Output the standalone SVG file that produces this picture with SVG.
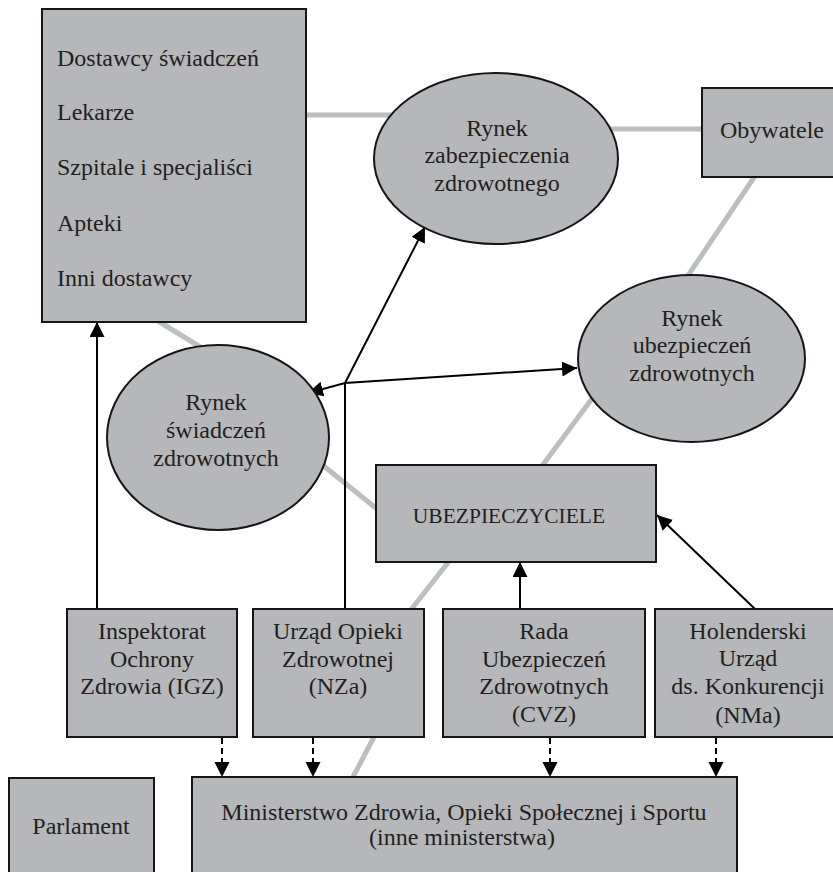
<svg xmlns="http://www.w3.org/2000/svg" width="833" height="872" viewBox="0 0 833 872">
<style>
.box{fill:#b6b7ba;stroke:#161616;stroke-width:2}
.t{font-family:"Liberation Serif","Times New Roman",serif;font-size:24px;fill:#231f20}
.c{text-anchor:middle}
.gl{stroke:#bcbec0;stroke-width:5;fill:none}
.ar{stroke:#000;stroke-width:2;fill:none}
.da{stroke:#000;stroke-width:2;fill:none;stroke-dasharray:6 4}
</style>
<defs>
<marker id="ah" markerUnits="userSpaceOnUse" markerWidth="16" markerHeight="16" refX="15" refY="7.5" orient="auto-start-reverse">
<path d="M0,0 L15,7.5 L0,15 z" fill="#000"/>
</marker>
</defs>
<rect width="833" height="872" fill="#fff"/>
<g id="connectors">
<line class="gl" x1="306" y1="115" x2="395" y2="115"/>
<line class="gl" x1="610" y1="129" x2="703" y2="129"/>
<line class="gl" x1="755" y1="176" x2="687" y2="277"/>
<line class="gl" x1="158" y1="321" x2="202" y2="348"/>
<line class="gl" x1="320" y1="463" x2="377" y2="509"/>
<line class="gl" x1="594" y1="396" x2="542" y2="466"/>
<line class="gl" x1="450" y1="560" x2="410" y2="611"/>
<line class="gl" x1="375" y1="735" x2="352" y2="779"/>
<line class="ar" x1="97" y1="609" x2="97" y2="322" marker-end="url(#ah)"/>
<polyline class="ar" points="345,609 345,383 425,227" marker-end="url(#ah)"/>
<polyline class="ar" points="308,393 345,383 577,368" marker-start="url(#ah)" marker-end="url(#ah)"/>
<line class="ar" x1="520" y1="609" x2="520" y2="562" marker-end="url(#ah)"/>
<line class="ar" x1="755" y1="609" x2="657" y2="515" marker-end="url(#ah)"/>
<line class="da" x1="222" y1="738" x2="222" y2="777" marker-end="url(#ah)"/>
<line class="da" x1="313" y1="738" x2="313" y2="777" marker-end="url(#ah)"/>
<line class="da" x1="550" y1="738" x2="550" y2="777" marker-end="url(#ah)"/>
<line class="da" x1="716" y1="738" x2="716" y2="777" marker-end="url(#ah)"/>
</g>
<g id="dostawcy">
<rect class="box" x="42" y="9" width="264" height="313"/>
<text class="t" x="57" y="66">Dostawcy świadczeń</text>
<text class="t" x="57" y="120">Lekarze</text>
<text class="t" x="57" y="175">Szpitale i specjaliści</text>
<text class="t" x="57" y="231">Apteki</text>
<text class="t" x="57" y="286">Inni dostawcy</text>
</g>
<g id="rynek-zabezpieczenia">
<ellipse class="box" cx="496" cy="158.5" rx="122" ry="85.5"/>
<text class="t c" x="497" y="136">Rynek</text>
<text class="t c" x="497" y="163">zabezpieczenia</text>
<text class="t c" x="497" y="191">zdrowotnego</text>
</g>
<g id="obywatele">
<rect class="box" x="702" y="88" width="140" height="89"/>
<text class="t c" x="772" y="138">Obywatele</text>
</g>
<g id="rynek-ubezpieczen">
<ellipse class="box" cx="691.5" cy="358.5" rx="113.5" ry="83.5"/>
<text class="t c" x="692" y="326">Rynek</text>
<text class="t c" x="692" y="353">ubezpieczeń</text>
<text class="t c" x="692" y="381">zdrowotnych</text>
</g>
<g id="rynek-swiadczen">
<ellipse class="box" cx="218" cy="437.5" rx="111" ry="92.5"/>
<text class="t c" x="216" y="410">Rynek</text>
<text class="t c" x="216" y="438">świadczeń</text>
<text class="t c" x="216" y="466">zdrowotnych</text>
</g>
<g id="ubezpieczyciele">
<rect class="box" x="376" y="465" width="280" height="97"/>
<text class="t c" x="509" y="523" style="font-size:21.5px">UBEZPIECZYCIELE</text>
</g>
<g id="igz">
<rect class="box" x="67" y="609" width="170" height="128"/>
<text class="t c" x="152" y="639">Inspektorat</text>
<text class="t c" x="152" y="667">Ochrony</text>
<text class="t c" x="152" y="694">Zdrowia (IGZ)</text>
</g>
<g id="nza">
<rect class="box" x="253" y="609" width="171" height="128"/>
<text class="t c" x="338" y="639">Urząd Opieki</text>
<text class="t c" x="338" y="667">Zdrowotnej</text>
<text class="t c" x="338" y="694">(NZa)</text>
</g>
<g id="cvz">
<rect class="box" x="443" y="609" width="202" height="128"/>
<text class="t c" x="544" y="639">Rada</text>
<text class="t c" x="544" y="667">Ubezpieczeń</text>
<text class="t c" x="544" y="694">Zdrowotnych</text>
<text class="t c" x="544" y="722">(CVZ)</text>
</g>
<g id="nma">
<rect class="box" x="655" y="609" width="190" height="128"/>
<text class="t c" x="748" y="639">Holenderski</text>
<text class="t c" x="748" y="666">Urząd</text>
<text class="t c" x="748" y="694">ds. Konkurencji</text>
<text class="t c" x="748" y="723">(NMa)</text>
</g>
<g id="parlament">
<rect class="box" x="9" y="778" width="145" height="110"/>
<text class="t c" x="81" y="834">Parlament</text>
</g>
<g id="ministerstwo">
<rect class="box" x="192" y="777" width="545" height="110"/>
<text class="t c" x="464" y="820">Ministerstwo Zdrowia, Opieki Społecznej i Sportu</text>
<text class="t c" x="462" y="845">(inne ministerstwa)</text>
</g>
</svg>
